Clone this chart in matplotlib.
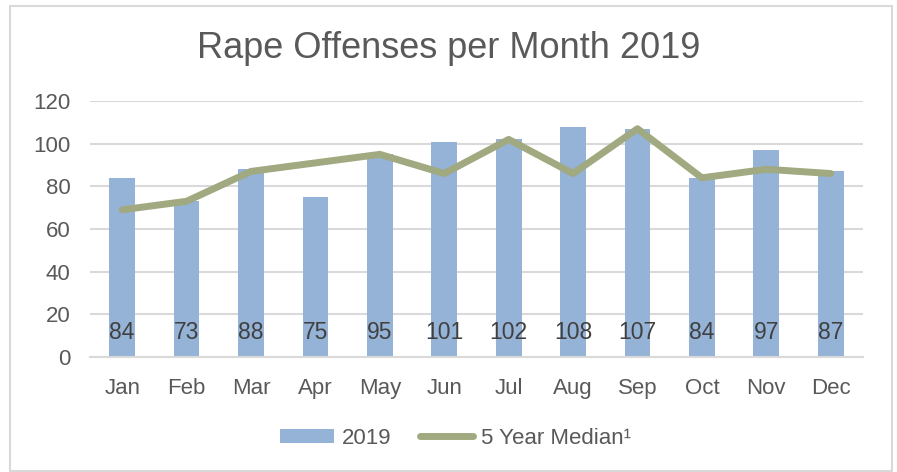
import matplotlib.pyplot as plt
import numpy as np
from matplotlib.patches import Rectangle

# Data
months = ["Jan", "Feb", "Mar", "Apr", "May", "Jun",
          "Jul", "Aug", "Sep", "Oct", "Nov", "Dec"]
offenses_2019 = [84, 73, 88, 75, 95, 101, 102, 108, 107, 84, 97, 87]
median_5yr = [69, 73, 87, 91, 95, 86, 102, 86, 107, 84, 88, 86]
y_ticks = [0, 20, 40, 60, 80, 100, 120]

plt.rcParams["font.family"] = ["Liberation Sans", "DejaVu Sans"]

bar_color = "#95B3D7"
line_color = "#A0A97F"
text_color = "#595959"
grid_color = "#D9D9D9"

fig = plt.figure(figsize=(8.97, 4.72), dpi=100)
ax = fig.add_axes([0.1003, 0.2436, 0.8617, 0.5424])

x = np.arange(len(months))
bars = ax.bar(x, offenses_2019, width=0.4, color=bar_color, label="2019", zorder=2)
line, = ax.plot(x, median_5yr, color=line_color, linewidth=5,
                solid_capstyle="round", label="5 Year Median\u00b9", zorder=3)

# data labels near the bar base
for xi, v in zip(x, offenses_2019):
    ax.annotate(str(v), (xi, 0), xytext=(0, 18), textcoords="offset points",
                ha="center", va="center", fontsize=16.5, color="#404040", zorder=4)

ax.set_xlim(-0.5, len(months) - 0.5)
ax.set_ylim(0, 120)
ax.set_yticks(y_ticks)
ax.set_xticks(x)
ax.set_xticklabels(months)
ax.tick_params(axis="both", length=0, labelsize=16, colors=text_color)
ax.tick_params(axis="x", pad=15)
ax.tick_params(axis="y", pad=14)
ax.yaxis.grid(True, color=grid_color, linewidth=1.5, zorder=0)
ax.set_axisbelow(True)
for side in ["top", "right", "left"]:
    ax.spines[side].set_visible(False)
ax.spines["bottom"].set_color(grid_color)
ax.spines["bottom"].set_linewidth(1.5)

fig.text(0.5, 1 - 48 / 472, "Rape Offenses per Month 2019", ha="center",
         va="center", fontsize=26, color=text_color)

fig.legend([bars, line], ["2019", "5 Year Median\u00b9"], loc="center",
           bbox_to_anchor=(0.508, 1 - 438 / 472), ncol=2,
           frameon=False, fontsize=16, labelcolor=text_color,
           handlelength=2.4, handleheight=0.6, handletextpad=0.35,
           columnspacing=1.3)

# outer chart border
fig.patches.append(Rectangle((10 / 897, 0.002), 882 / 897, 1 - 6 / 472 - 0.002,
                             transform=fig.transFigure, fill=False,
                             edgecolor=grid_color, linewidth=1.5))

fig.savefig("out.png", dpi=100)
